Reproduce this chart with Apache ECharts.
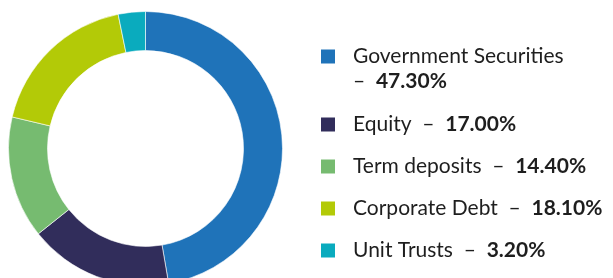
<!DOCTYPE html>
<html><head><meta charset="utf-8">
<script src="https://cdn.jsdelivr.net/npm/echarts@6/dist/echarts.min.js"></script>
<style>html,body{margin:0;padding:0;background:#fff}#c{width:613px;height:278px}</style>
</head><body><div id="c"></div>
<script>
const categories = ["Government Securities", "Equity", "Term deposits", "Corporate Debt", "Unit Trusts"];
const values = [47.30, 17.00, 14.40, 18.10, 3.20];
const colors = ["#1f73b9", "#312d5b", "#76bb70", "#b3ca07", "#0aabbe"];
const legendTops = [41, 109, 151, 193, 235];

const chart = echarts.init(document.getElementById('c'));
const FS = 21;
const legends = categories.map((name, i) => ({
  data: [name],
  left: 314,
  top: legendTops[i],
  itemWidth: 16,
  itemHeight: 16,
  icon: 'rect',
  selectedMode: false,
  formatter: (n) => {
    const v = values[categories.indexOf(n)].toFixed(2) + '%';
    return i === 0 ? '{t|' + n + '}\n{t|–  }{b|' + v + '}' : '{t|' + n + '  –  }{b|' + v + '}';
  },
  textStyle: {
    padding: i === 0 ? [25, 0, 0, 12] : [0, 0, 0, 12],
    rich: {
      t: {fontFamily: 'Lato', fontSize: FS, color: '#1e1e1e', lineHeight: 25},
      b: {fontFamily: 'Lato', fontSize: FS, fontWeight: 'bold', color: '#1e1e1e', lineHeight: 25}
    }
  }
}));

chart.setOption({
  animation: false,
  color: colors,
  legend: legends,
  series: [{
    type: 'pie',
    center: [145.5, 148.5],
    radius: [98, 137],
    startAngle: 90,
    clockwise: true,
    label: {show: false},
    labelLine: {show: false},
    emphasis: {disabled: true},
    itemStyle: {borderColor: '#ffffff', borderWidth: 0.6},
    data: categories.map((n, i) => ({name: n, value: values[i]}))
  }]
});
</script></body></html>
